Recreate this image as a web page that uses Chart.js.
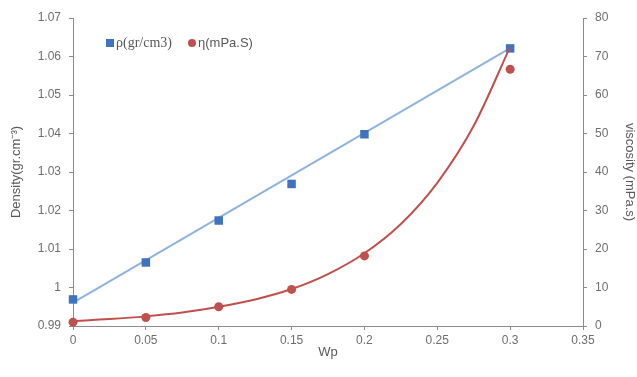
<!DOCTYPE html>
<html>
<head>
<meta charset="utf-8">
<script src="https://cdn.jsdelivr.net/npm/chart.js@4"></script>
<style>
  html, body { margin: 0; padding: 0; background: #fff; }
  #wrap { width: 637px; height: 377px; }
</style>
</head>
<body>
<div id="wrap"><canvas id="chart" width="637" height="377"></canvas></div>
<script>
// measured points
const wp = [0, 0.05, 0.1, 0.15, 0.2, 0.3];
const density = [0.9969, 1.0065, 1.0174, 1.0269, 1.0398, 1.0621];
const viscosity = [1.0, 2.2, 5.0, 9.5, 18.2, 66.7];

// trend lines
const densityFitX = [0, 0.3];
const densityFit = [0.9961, 1.0622];
const viscFitX = [0, 0.025, 0.05, 0.075, 0.1, 0.125, 0.15, 0.175, 0.2, 0.225, 0.25, 0.275, 0.3];
const viscFit = [1.3, 1.8, 2.5, 3.5, 5.0, 6.9, 9.6, 13.5, 18.9, 26.5, 37.2, 52.0, 72.5];

const labelRho = 'ρ(gr/cm3)';
const labelEta = 'η(mPa.S)';

const axisGrey = '#8c8c8c';
const textGrey = '#6e6e6e';
const blue = '#3f73bf';
const blueLine = '#8fb3e0';
const red = '#c0504d';

const pairs = (xs, ys) => xs.map((x, i) => ({x: x, y: ys[i]}));

// legend drawn inside the plot, like the original
const innerLegend = {
    id: 'innerLegend',
    afterDraw(chart) {
        const ctx = chart.ctx;
        const y = 43;
        ctx.save();
        ctx.fillStyle = blue;
        ctx.fillRect(106, y - 4, 8, 8);
        ctx.fillStyle = '#595959';
        ctx.textBaseline = 'middle';
        ctx.font = '14px "Liberation Serif"';
        ctx.fillText(labelRho, 116, y);
        ctx.fillStyle = red;
        ctx.beginPath();
        ctx.arc(192, y, 4, 0, Math.PI * 2);
        ctx.fill();
        ctx.fillStyle = '#595959';
        ctx.font = '13px "Liberation Sans"';
        ctx.fillText(labelEta, 198, y);
        ctx.restore();
    }
};

const fmt = v => String(parseFloat(Number(v).toFixed(2)));

new Chart(document.getElementById('chart').getContext('2d'), {
    type: 'line',
    data: {
        datasets: [
            {
                label: 'density fit',
                data: pairs(densityFitX, densityFit),
                yAxisID: 'y',
                borderColor: blueLine,
                borderWidth: 2,
                pointRadius: 0,
                fill: false,
                clip: false,
                order: 4,
            },
            {
                label: labelRho,
                data: pairs(wp, density),
                yAxisID: 'y',
                showLine: false,
                pointStyle: 'rect',
                pointRadius: 6,
                pointBackgroundColor: blue,
                pointBorderColor: blue,
                pointBorderWidth: 0,
                clip: false,
                order: 3,
            },
            {
                label: labelEta,
                data: pairs(wp, viscosity),
                yAxisID: 'y1',
                showLine: false,
                pointStyle: 'circle',
                pointRadius: 4.5,
                pointBackgroundColor: red,
                pointBorderColor: red,
                pointBorderWidth: 0,
                clip: false,
                order: 2,
            },
            {
                label: 'viscosity fit',
                data: pairs(viscFitX, viscFit),
                yAxisID: 'y1',
                borderColor: red,
                borderWidth: 2,
                pointRadius: 0,
                cubicInterpolationMode: 'monotone',
                fill: false,
                clip: false,
                order: 1,
            },
        ]
    },
    options: {
        responsive: false,
        animation: false,
        devicePixelRatio: 1,
        layout: { padding: { top: 18, left: 0, right: 0, bottom: 0 } },
        plugins: {
            legend: { display: false },
            tooltip: { enabled: false },
        },
        scales: {
            x: {
                type: 'linear',
                min: 0,
                max: 0.35,
                ticks: { stepSize: 0.05, callback: fmt, color: textGrey, font: { family: 'Liberation Sans', size: 12 }, padding: 3, maxRotation: 0 },
                grid: { drawOnChartArea: false, color: axisGrey, tickLength: 4 },
                border: { color: axisGrey, width: 1 },
                title: { display: true, text: 'Wp', color: '#595959', font: { family: 'Liberation Sans', size: 13 }, padding: { top: 0, bottom: 17 } },
                afterFit: s => { s.height = 51; },
            },
            y: {
                position: 'left',
                min: 0.99,
                max: 1.07,
                ticks: { stepSize: 0.01, callback: fmt, color: textGrey, font: { family: 'Liberation Sans', size: 12 }, padding: 8 },
                grid: { drawOnChartArea: false, color: axisGrey, tickLength: 4 },
                border: { color: axisGrey, width: 1 },
                title: { display: true, text: 'Density(gr.cm⁻³)', color: '#595959', font: { family: 'Liberation Sans', size: 13 }, padding: { top: 9, bottom: 0 } },
                afterFit: s => { s.width = 73; },
            },
            y1: {
                position: 'right',
                min: 0,
                max: 80,
                ticks: { stepSize: 10, color: textGrey, font: { family: 'Liberation Sans', size: 12 }, padding: 8 },
                grid: { drawOnChartArea: false, color: axisGrey, tickLength: 4 },
                border: { color: axisGrey, width: 1 },
                title: { display: true, text: 'viscosity (mPa.s)', color: '#595959', font: { family: 'Liberation Sans', size: 13 }, padding: { top: 0, bottom: 0 } },
                afterFit: s => { s.width = 54; },
            },
        }
    },
    plugins: [innerLegend]
});
</script>
</body>
</html>
